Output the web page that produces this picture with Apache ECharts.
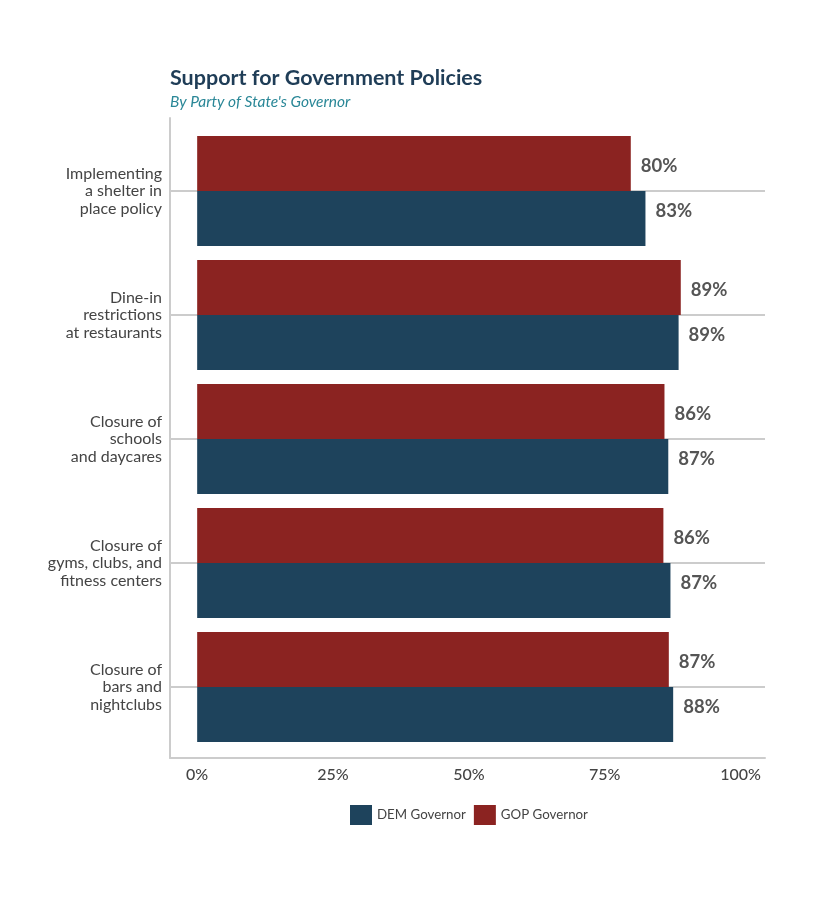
<!DOCTYPE html>
<html>
<head>
<meta charset="utf-8">
<script src="https://cdn.jsdelivr.net/npm/echarts@6/dist/echarts.min.js"></script>
<style>html,body{margin:0;padding:0;background:#fff;}#chart{width:815px;height:902px;}</style>
</head>
<body>
<div id="chart"></div>
<script>
const categories = [
  "Implementing\na shelter in\nplace policy",
  "Dine-in\nrestrictions\nat restaurants",
  "Closure of\nschools\nand daycares",
  "Closure of\ngyms, clubs, and\nfitness centers",
  "Closure of\nbars and\nnightclubs"
];
const gopValues = [79.8, 89.0, 86.0, 85.8, 86.8];
const demValues = [82.5, 88.6, 86.7, 87.1, 87.6];
const xTickValues = [0, 25, 50, 75, 100];

const chart = echarts.init(document.getElementById('chart'), null, {renderer: 'canvas'});
const fontFamily = 'Lato, "Open Sans", sans-serif';
const gridColor = '#cccccc';
const labelFmt = p => Math.round(p.value) + '%';

chart.setOption({
  backgroundColor: '#ffffff',
  textStyle: {fontFamily: fontFamily},
  title: {
    text: 'Support for Government Policies',
    subtext: "By Party of State's Governor",
    left: 165, top: 62, itemGap: 5,
    textStyle: {fontFamily: fontFamily, fontSize: 21.5, fontWeight: 'bold', color: '#1f3d57'},
    subtextStyle: {fontFamily: fontFamily, fontSize: 15.5, fontStyle: 'italic', color: '#2a8797'}
  },
  legend: {
    data: ['DEM Governor', 'GOP Governor'],
    left: 345, top: 800,
    itemWidth: 22, itemHeight: 20, itemGap: 8,
    icon: 'rect',
    textStyle: {fontFamily: fontFamily, fontSize: 13.3, color: '#444'}
  },
  grid: [
    {left: 170, right: 50, top: 129, height: 620},
    {left: 170, right: 50, top: 118, height: 640}
  ],
  xAxis: [
    {gridIndex: 0, type: 'value', min: -5, max: 104.5, show: false},
    {gridIndex: 1, type: 'value', min: -5, max: 104.5,
     axisLine: {show: true, onZero: false, lineStyle: {color: gridColor, width: 2}},
     axisTick: {show: false}, splitLine: {show: false},
     axisLabel: {customValues: xTickValues, formatter: '{value}%', margin: 9,
                 fontFamily: fontFamily, fontSize: 16, fontWeight: 500, color: '#444'}}
  ],
  yAxis: [
    {gridIndex: 0, type: 'category', data: categories, inverse: true,
     axisLine: {show: false},
     axisTick: {show: true, alignWithLabel: true, length: 5, lineStyle: {color: gridColor, width: 2}},
     splitLine: {show: true, alignWithLabel: true, lineStyle: {color: gridColor, width: 2}},
     axisLabel: {margin: 8, fontFamily: fontFamily, fontSize: 16, lineHeight: 17.5, color: '#444', align: 'right'}},
    {gridIndex: 1, type: 'value', min: 0, max: 1,
     axisLine: {show: true, onZero: false, lineStyle: {color: gridColor, width: 2}},
     axisTick: {show: false}, splitLine: {show: false}, axisLabel: {show: false}}
  ],
  series: [
    {name: 'GOP Governor', type: 'bar', xAxisIndex: 0, yAxisIndex: 0, data: gopValues,
     barWidth: 55, barGap: '0%', z: 3,
     itemStyle: {color: '#8b2321'},
     label: {show: true, position: 'right', distance: 10, offset: [0, 3], formatter: labelFmt,
             fontFamily: fontFamily, fontSize: 18.5, fontWeight: 'bold', color: '#555'}},
    {name: 'DEM Governor', type: 'bar', xAxisIndex: 0, yAxisIndex: 0, data: demValues,
     barWidth: 55, barGap: '0%', z: 3,
     itemStyle: {color: '#1e435c'},
     label: {show: true, position: 'right', distance: 10, offset: [0, -7], formatter: labelFmt,
             fontFamily: fontFamily, fontSize: 18.5, fontWeight: 'bold', color: '#555'}}
  ]
});
</script>
</body>
</html>
